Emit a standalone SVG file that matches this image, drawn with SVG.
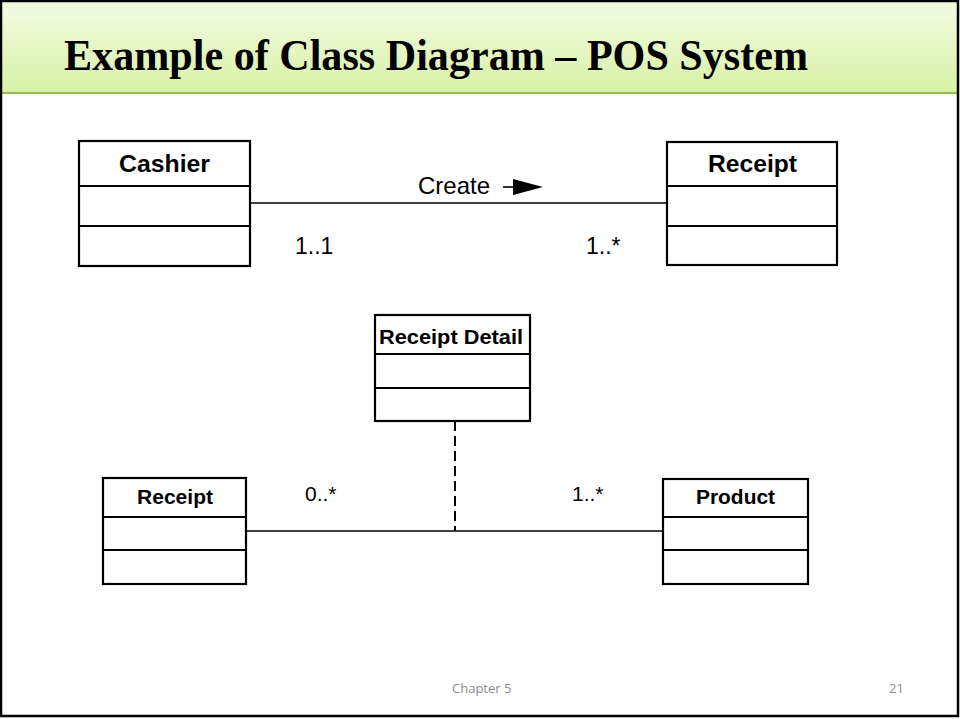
<svg xmlns="http://www.w3.org/2000/svg" width="960" height="719" viewBox="0 0 960 719">
<defs>
<linearGradient id="hdr" x1="0" y1="0" x2="0" y2="1">
<stop offset="0" stop-color="#f3fbe4"/>
<stop offset="1" stop-color="#d8f1a6"/>
</linearGradient>
<style>
.box{fill:#fff;stroke:#000;stroke-width:2.2}
.div{stroke:#000;stroke-width:2.2}
.cn{font-family:"Liberation Sans",Arial,sans-serif;font-weight:bold;fill:#000}
.lbl{font-family:"Liberation Sans",Arial,sans-serif;fill:#000}
.ln{stroke:#000;stroke-width:1.3;fill:none}
.ft{font-family:"Open Sans","Liberation Sans",sans-serif;font-size:13px;fill:#8c8c8c}
</style>
</defs>
<rect x="0" y="0" width="960" height="719" fill="#fff"/>
<rect x="1" y="1" width="957" height="92" fill="url(#hdr)"/>
<line x1="1" y1="93" x2="958" y2="93" stroke="#93bf55" stroke-width="2"/>
<text x="64" y="70" font-family="'Liberation Serif','Times New Roman',serif" font-weight="bold" font-size="44" textLength="744" lengthAdjust="spacingAndGlyphs" fill="#000">Example of Class Diagram – POS System</text>
<rect x="1" y="1" width="957" height="715" fill="none" stroke="#000" stroke-width="2.5"/>

<g id="connectors">
<line class="ln" x1="250" y1="203" x2="667" y2="203"/>
<line class="ln" x1="246" y1="531" x2="663" y2="531"/>
<line x1="455" y1="421" x2="455" y2="531" stroke="#000" stroke-width="2" stroke-dasharray="10,5"/>
<line x1="503" y1="187" x2="514" y2="187" stroke="#000" stroke-width="1.6"/>
<path d="M513,179 L543,187 L513,195 Z" fill="#000"/>
<text class="lbl" x="418" y="194" font-size="24">Create</text>
<text class="lbl" x="295" y="254" font-size="23">1..1</text>
<text class="lbl" x="586" y="254" font-size="23">1..*</text>
<text class="lbl" x="305" y="501" font-size="21">0..*</text>
<text class="lbl" x="572" y="501" font-size="21">1..*</text>
</g>

<g id="cashier">
<rect class="box" x="79" y="141" width="171" height="125"/>
<line class="div" x1="79" y1="186" x2="250" y2="186"/>
<line class="div" x1="79" y1="226" x2="250" y2="226"/>
<text class="cn" x="119" y="172" font-size="24" textLength="91" lengthAdjust="spacingAndGlyphs">Cashier</text>
</g>

<g id="receipt-top">
<rect class="box" x="667" y="142" width="170" height="123"/>
<line class="div" x1="667" y1="186" x2="837" y2="186"/>
<line class="div" x1="667" y1="226" x2="837" y2="226"/>
<text class="cn" x="708" y="172" font-size="24" textLength="89" lengthAdjust="spacingAndGlyphs">Receipt</text>
</g>

<g id="receipt-detail">
<rect class="box" x="375" y="315" width="155" height="106"/>
<line class="div" x1="375" y1="354" x2="530" y2="354"/>
<line class="div" x1="375" y1="388" x2="530" y2="388"/>
<text class="cn" x="379" y="344" font-size="20" textLength="144" lengthAdjust="spacingAndGlyphs">Receipt Detail</text>
</g>

<g id="receipt-bottom">
<rect class="box" x="103" y="478" width="143" height="106"/>
<line class="div" x1="103" y1="517" x2="246" y2="517"/>
<line class="div" x1="103" y1="550" x2="246" y2="550"/>
<text class="cn" x="137" y="504" font-size="21" textLength="76" lengthAdjust="spacingAndGlyphs">Receipt</text>
</g>

<g id="product">
<rect class="box" x="663" y="479" width="145" height="105"/>
<line class="div" x1="663" y1="517" x2="808" y2="517"/>
<line class="div" x1="663" y1="550" x2="808" y2="550"/>
<text class="cn" x="696" y="504" font-size="21" textLength="79" lengthAdjust="spacingAndGlyphs">Product</text>
</g>

<text class="ft" x="452" y="693">Chapter 5</text>
<text class="ft" x="889" y="693">21</text>
</svg>
